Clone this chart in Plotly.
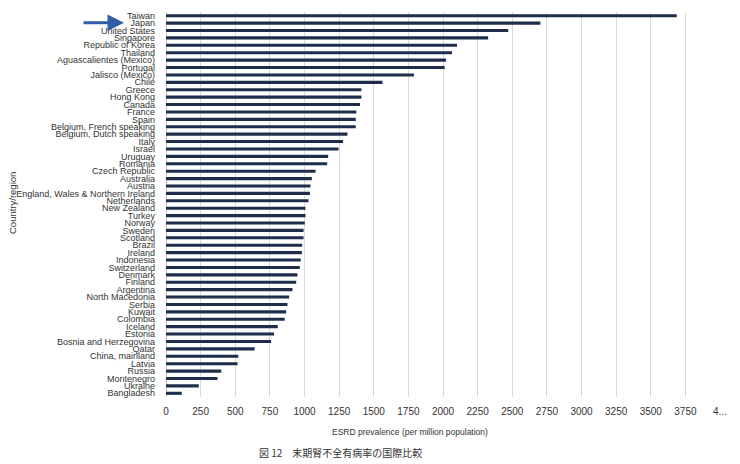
import plotly.graph_objects as go

countries = [
    "Taiwan", "Japan", "United States", "Singapore", "Republic of Korea", "Thailand",
    "Aguascalientes (Mexico)", "Portugal", "Jalisco (Mexico)", "Chile", "Greece",
    "Hong Kong", "Canada", "France", "Spain", "Belgium, French speaking",
    "Belgium, Dutch speaking", "Italy", "Israel", "Uruguay", "Romania",
    "Czech Republic", "Australia", "Austria", "England, Wales & Northern Ireland",
    "Netherlands", "New Zealand", "Turkey", "Norway", "Sweden", "Scotland", "Brazil",
    "Ireland", "Indonesia", "Switzerland", "Denmark", "Finland", "Argentina",
    "North Macedonia", "Serbia", "Kuwait", "Colombia", "Iceland", "Estonia",
    "Bosnia and Herzegovina", "Qatar", "China, mainland", "Latvia", "Russia",
    "Montenegro", "Ukraine", "Bangladesh",
]
prevalence = [
    3688, 2703, 2471, 2326, 2101, 2065,
    2022, 2012, 1790, 1563, 1411,
    1411, 1401, 1374, 1370, 1370,
    1310, 1278, 1246, 1171, 1164,
    1080, 1053, 1043, 1039,
    1029, 1007, 1007, 1002, 993, 993, 983,
    981, 973, 966, 949, 940, 913,
    889, 877, 867, 857, 807, 780,
    758, 640, 522, 517, 399,
    372, 237, 114,
]
x_tick_vals = [0, 250, 500, 750, 1000, 1250, 1500, 1750, 2000, 2250, 2500, 2750,
               3000, 3250, 3500, 3750, 4000]
x_tick_text = ["0", "250", "500", "750", "1000", "1250", "1500", "1750", "2000", "2250",
               "2500", "2750", "3000", "3250", "3500", "3750", "4..."]

FONT = "Liberation Sans, Arial, sans-serif"
TXT = "#333333"

# page body has an 8px default margin; figure is sized so it fits the 740x464 window
fig = go.Figure(go.Bar(
    y=countries, x=prevalence, orientation="h",
    marker=dict(color="#1F2D4D", line=dict(width=0)),
    width=0.42,
))

PW, PH = 554, 385  # plot area size in px

fig.update_layout(
    width=732, height=456,
    margin=dict(l=158, r=20, t=4, b=67, autoexpand=False),
    paper_bgcolor="white", plot_bgcolor="white",
    font=dict(family=FONT, size=10, color=TXT),
    showlegend=False,
    xaxis=dict(
        range=[0, 4000], tickmode="array", tickvals=x_tick_vals, ticktext=x_tick_text,
        showgrid=True, gridcolor="#DADADA", gridwidth=1,
        zeroline=True, zerolinecolor="#CFCFCF", zerolinewidth=1,
        showline=False, ticks="", ticklabelstandoff=7, automargin=False,
        tickfont=dict(family=FONT, size=10, color=TXT),
        fixedrange=True,
    ),
    yaxis=dict(
        type="category", autorange="reversed",
        tickmode="array", tickvals=countries, ticktext=countries,
        showgrid=False, ticks="", ticklabelstandoff=10, automargin=False,
        tickfont=dict(family=FONT, size=9, color=TXT),
        fixedrange=True,
    ),
    annotations=[
        dict(text="ESRD prevalence (per million population)", xref="paper", yref="paper",
             x=(410 - 166) / PW, y=-35 / PH, showarrow=False,
             font=dict(family=FONT, size=8.5, color=TXT), xanchor="center", yanchor="middle"),
        dict(text="Country/region", xref="paper", yref="paper",
             x=-154 / PW, y=(397 - 203) / PH, showarrow=False, textangle=-90,
             font=dict(family=FONT, size=9.5, color=TXT), xanchor="center", yanchor="middle"),
        dict(text="図 12　末期腎不全有病率の国際比較", xref="paper", yref="paper",
             x=(340 - 166) / PW, y=-55 / PH, showarrow=False,
             font=dict(family="Noto Sans CJK JP", size=10, color=TXT),
             xanchor="center", yanchor="middle"),
        dict(text="", xref="paper", yref="paper",
             x=(124 - 166) / PW, y=(397 - 22.7) / PH,
             ax=-42, ay=0, axref="pixel", ayref="pixel",
             showarrow=True, arrowhead=2, arrowsize=1.1, arrowwidth=3,
             arrowcolor="#2F5DA6"),
    ],
)

fig.write_html("out.html")
